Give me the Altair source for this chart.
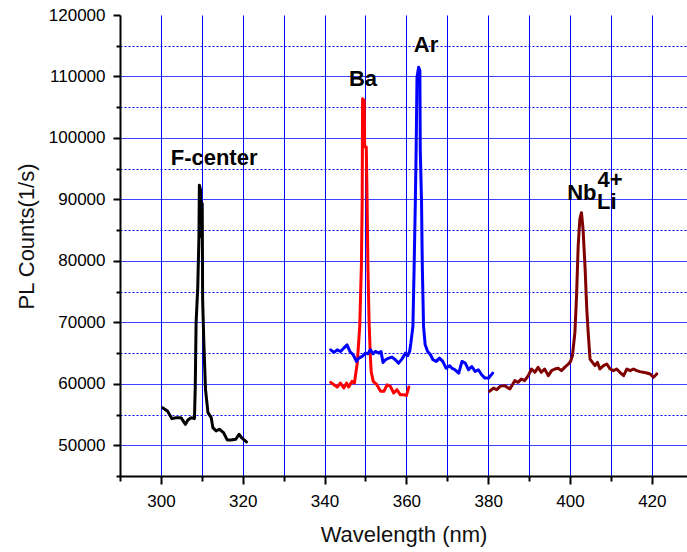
import altair as alt
import pandas as pd

# ---- data ----
f_x = [300.4, 301.6, 302.7, 303.7, 304.9, 306.0, 306.6, 307.4, 308.2, 308.4, 308.6, 309.0, 309.3, 309.4,
       309.7, 309.8, 310.1, 310.2, 310.5, 310.9, 311.5, 312.3, 312.7, 313.5, 314.3, 315.3, 316.2, 317.2,
       318.3, 319.1, 319.7, 320.9]
f_y = [56110, 55570, 54330, 54490, 54490, 53410, 54110, 54490, 54330, 59600, 69900, 75570, 83950, 92320,
       91500, 83950, 89350, 73680, 66650, 59080, 55300, 54490, 52870, 52330, 52600, 52060, 50870, 50870,
       50980, 51790, 51250, 50540]

ba_x = [341.5, 342.3, 343.1, 343.9, 344.7, 345.4, 345.9, 346.7, 347.3, 348.0, 348.6, 349.0, 349.2, 349.3,
        349.7, 349.8, 350.2, 350.4, 350.6, 350.9, 351.2, 351.4, 351.9, 352.8, 353.7, 354.5, 355.3, 356.1,
        356.9, 357.7, 358.5, 359.3, 360.0, 360.6]
ba_y = [60230, 59850, 59470, 60120, 59310, 60120, 59470, 60390, 60120, 63370, 69320, 79060, 89880, 106380,
        106100, 98530, 98530, 89880, 79060, 69860, 64450, 62010, 60390, 59850, 58770, 58770, 59850, 59580,
        58500, 59040, 58230, 58230, 58070, 59470]

ar_x = [341.5, 342.3, 343.1, 343.9, 344.7, 345.5, 346.2, 347.0, 347.8, 348.4, 349.2, 350.0, 350.6, 351.2,
        351.9, 352.4, 353.3, 353.8, 354.3, 354.9, 355.7, 356.5, 357.3, 358.1, 358.9, 359.8, 360.3, 360.8,
        361.1, 361.6, 361.9, 362.2, 362.4, 362.6, 363.0, 363.3, 363.4, 363.7, 363.9, 364.2, 364.6, 365.2,
        365.9, 366.5, 367.3, 368.1, 368.9, 369.7, 370.6, 371.1, 371.9, 372.8, 373.6, 374.4, 375.2, 376.0,
        376.8, 377.6, 378.4, 379.2, 380.1, 381.1]
ar_y = [65530, 65100, 65530, 65260, 65800, 66340, 65260, 64720, 63640, 64180, 64450, 64990, 64880, 65530,
        64880, 65260, 64990, 65260, 63470, 63910, 64180, 64340, 63910, 63370, 64020, 64990, 64560, 65260,
        66610, 69320, 79060, 89880, 98530, 109890, 111510, 110970, 97990, 89880, 79060, 69320, 66340, 65260,
        64720, 63910, 63640, 64180, 63640, 62550, 62930, 62550, 62280, 61740, 63640, 63370, 62280, 62820,
        62010, 62280, 61470, 60930, 60930, 61740]

nb_x = [380.3, 381.3, 382.1, 382.9, 384.0, 385.3, 386.5, 387.3, 388.1, 388.9, 389.8, 390.6, 391.4, 392.2,
        393.0, 393.8, 394.7, 395.5, 396.3, 397.1, 397.9, 398.7, 399.6, 400.1, 400.6, 401.2, 401.6, 402.0,
        402.4, 402.8, 403.2, 403.7, 404.1, 404.5, 404.9, 405.5, 406.1, 406.7, 407.3, 408.2, 409.0, 409.8,
        410.6, 411.4, 412.2, 413.1, 413.9, 414.7, 415.5, 416.3, 417.1, 417.9, 418.8, 419.6, 420.4, 421.2]
nb_y = [58770, 59310, 59040, 59580, 59700, 59160, 60510, 60240, 60780, 60510, 61330, 62410, 61870, 62680,
        61870, 62410, 61330, 62140, 62410, 62520, 62140, 62680, 63220, 63600, 64570, 68360, 74310, 82430,
        86750, 87840, 85130, 78640, 72150, 67820, 64030, 63490, 62950, 63490, 62410, 62950, 63220, 62410,
        62140, 62410, 61870, 61330, 62410, 62140, 62410, 62140, 61980, 61870, 61760, 61600, 61060, 61600]

series_names = ["F-center", "Ba", "Ar", "Nb"]
series_colors = ["#000000", "#ff0000", "#0000ff", "#800000"]

# annotations
ann_c_text = ["F-center", "Ba", "Ar"]
ann_c_x = [313.0, 349.4, 364.8]
ann_c_y = [95610, 108455, 114033]
ann_l_text = ["Nb", "Li", "4+"]
ann_l_x = [399.3, 406.6, 406.7]
ann_l_y = [89919, 88400, 92000]

x_ticks = list(range(290, 430, 10))
y_ticks = list(range(45000, 120001, 5000))

rows = []
for name, xs, ys in zip(series_names, [f_x, ba_x, ar_x, nb_x], [f_y, ba_y, ar_y, nb_y]):
    for i, (xv, yv) in enumerate(zip(xs, ys)):
        rows.append({"series": name, "wl": xv, "counts": yv, "i": i})
df = pd.DataFrame(rows)

ann_c = pd.DataFrame({"t": ann_c_text, "wl": ann_c_x, "counts": ann_c_y})
ann_l = pd.DataFrame({"t": ann_l_text, "wl": ann_l_x, "counts": ann_l_y})

FONT = "Liberation Sans"

x_scale = alt.Scale(domain=[290, 428.6], nice=False, zero=False)
y_scale = alt.Scale(domain=[45000, 120000], nice=False, zero=False)

x_axis = alt.Axis(
    values=x_ticks, format="d", title="Wavelength (nm)",
    labelExpr="datum.value % 20 === 0 ? datum.label : ''",
    labelOverlap=False, labelFontSize=17, labelFont=FONT, labelColor="#000000",
    labelBaseline="alphabetic", labelPadding=22,
    tickSize={"condition": {"test": "datum.value % 20 === 0", "value": 8}, "value": 5},
    tickColor="#000000", tickWidth=2, domainColor="#000000", domainWidth=2,
    grid=True, gridColor="#0000ff", gridWidth=1,
    gridOpacity={"condition": {"test": "datum.value <= 290", "value": 0}, "value": 1},
    titleFont=FONT, titleFontSize=22, titleFontWeight="normal", titleColor="#111111",
    titleY=65, titleBaseline="alphabetic",
)
y_axis = alt.Axis(
    values=y_ticks, format="d", title="PL Counts(1/s)",
    labelExpr="datum.value % 10000 === 0 ? datum.label : ''",
    labelOverlap=False, labelFontSize=17, labelFont=FONT, labelColor="#000000",
    labelPadding=8,
    tickSize={"condition": {"test": "datum.value % 10000 === 0", "value": 7}, "value": 4},
    tickColor="#000000", tickWidth=2, domainColor="#000000", domainWidth=2,
    grid=True, gridColor="#0000ff", gridWidth=1,
    gridDash={"condition": {"test": "datum.value % 10000 !== 0", "value": [2, 2]}, "value": [1, 0]},
    gridOpacity={"condition": {"test": "datum.value >= 120000 || datum.value <= 45000", "value": 0}, "value": 1},
    titleFont=FONT, titleFontSize=22, titleFontWeight="normal", titleColor="#111111",
    titleX=-87, titleY=221, titleBaseline="alphabetic", titleAlign="center", titleAngle=270,
)

X = alt.X("wl:Q", scale=x_scale, axis=x_axis)
Y = alt.Y("counts:Q", scale=y_scale, axis=y_axis)

lines = alt.Chart(df).mark_line(strokeWidth=3, strokeJoin="round", strokeCap="round").encode(
    x=X, y=Y,
    color=alt.Color("series:N", scale=alt.Scale(domain=series_names, range=series_colors), legend=None),
    order="i:Q",
)

txt_c = alt.Chart(ann_c).mark_text(
    font=FONT, fontSize=22, fontWeight="bold", align="center", baseline="alphabetic", color="#000000"
).encode(x=X, y=Y, text="t:N")

txt_l = alt.Chart(ann_l).mark_text(
    font=FONT, fontSize=22, fontWeight="bold", align="left", baseline="alphabetic", color="#000000"
).encode(x=X, y=Y, text="t:N")

chart = alt.layer(lines, txt_c, txt_l).properties(
    width=567, height=461,
    padding={"left": 120, "top": 15, "right": 0, "bottom": 76},
    autosize=alt.AutoSizeParams(type="none"),
    background="#ffffff",
).configure_view(strokeWidth=0)

chart.save("out.html", embed_options={"renderer": "svg", "actions": False})
